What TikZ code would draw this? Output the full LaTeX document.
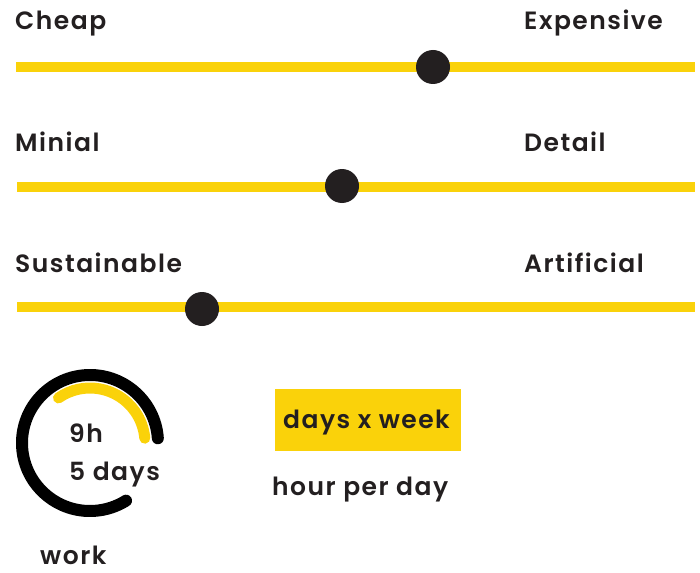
\documentclass[tikz,border=0pt]{standalone}
\usepackage{fontspec}
\setmainfont{Poppins}[BoldFont={Poppins SemiBold},LetterSpace=6]
\definecolor{barY}{HTML}{FAD20A}
\definecolor{ink}{HTML}{231F20}
\begin{document}
\begin{tikzpicture}[x=1pt,y=-1pt,
  lbl/.style={anchor=base west,inner sep=0pt,font=\fontsize{25}{30}\selectfont\bfseries,text=ink},
  bar/.style={draw=barY,line width=10},
  knob/.style={circle,fill=ink,minimum size=34,inner sep=0pt}]
\useasboundingbox (0,0) rectangle (700,572);
% sliders
\node[lbl] (cheap) at (15,30) {Cheap};
\node[lbl] (exp) at (524,30) {Expensive};
\coordinate (b1l) at (16,67); \coordinate (b1r) at (695,67);
\draw[bar] (b1l) -- (b1r);
\node[knob] (k1) at (433,67) {};
\node[lbl] (minial) at (15,151) {Minial};
\node[lbl] (detail) at (524,151) {Detail};
\coordinate (b2l) at (17,187); \coordinate (b2r) at (695,187);
\draw[bar] (b2l) -- (b2r);
\node[knob] (k2) at (342,186) {};
\node[lbl] (sust) at (15,272) {Sustainable};
\node[lbl] (art) at (524,272) {Artificial};
\coordinate (b3l) at (17,307); \coordinate (b3r) at (695,307);
\draw[bar] (b3l) -- (b3r);
\node[knob] (k3) at (202,309) {};
% ring
\coordinate (rc) at (90,443);
\draw[black,line width=12,line cap=round] (rc) ++(-4:68) arc[start angle=-4,end angle=-302,radius=68];
\draw[barY,line width=11,line cap=round] (rc) ++(-125:55) arc[start angle=-125,end angle=-5,radius=55];
\node[lbl] (nine) at (69,442) {9h};
\node[lbl] (five) at (69,480) {5 days};
\node[lbl] (work) at (40,564) {work};
% days box
\node[fill=barY,minimum width=186,minimum height=62,inner sep=0pt,anchor=north west] (box) at (275,389) {};
\node[lbl] (dxw) at (283,428) {days x week};
\node[lbl] (hpd) at (272,495) {hour per day};
\end{tikzpicture}
\end{document}
